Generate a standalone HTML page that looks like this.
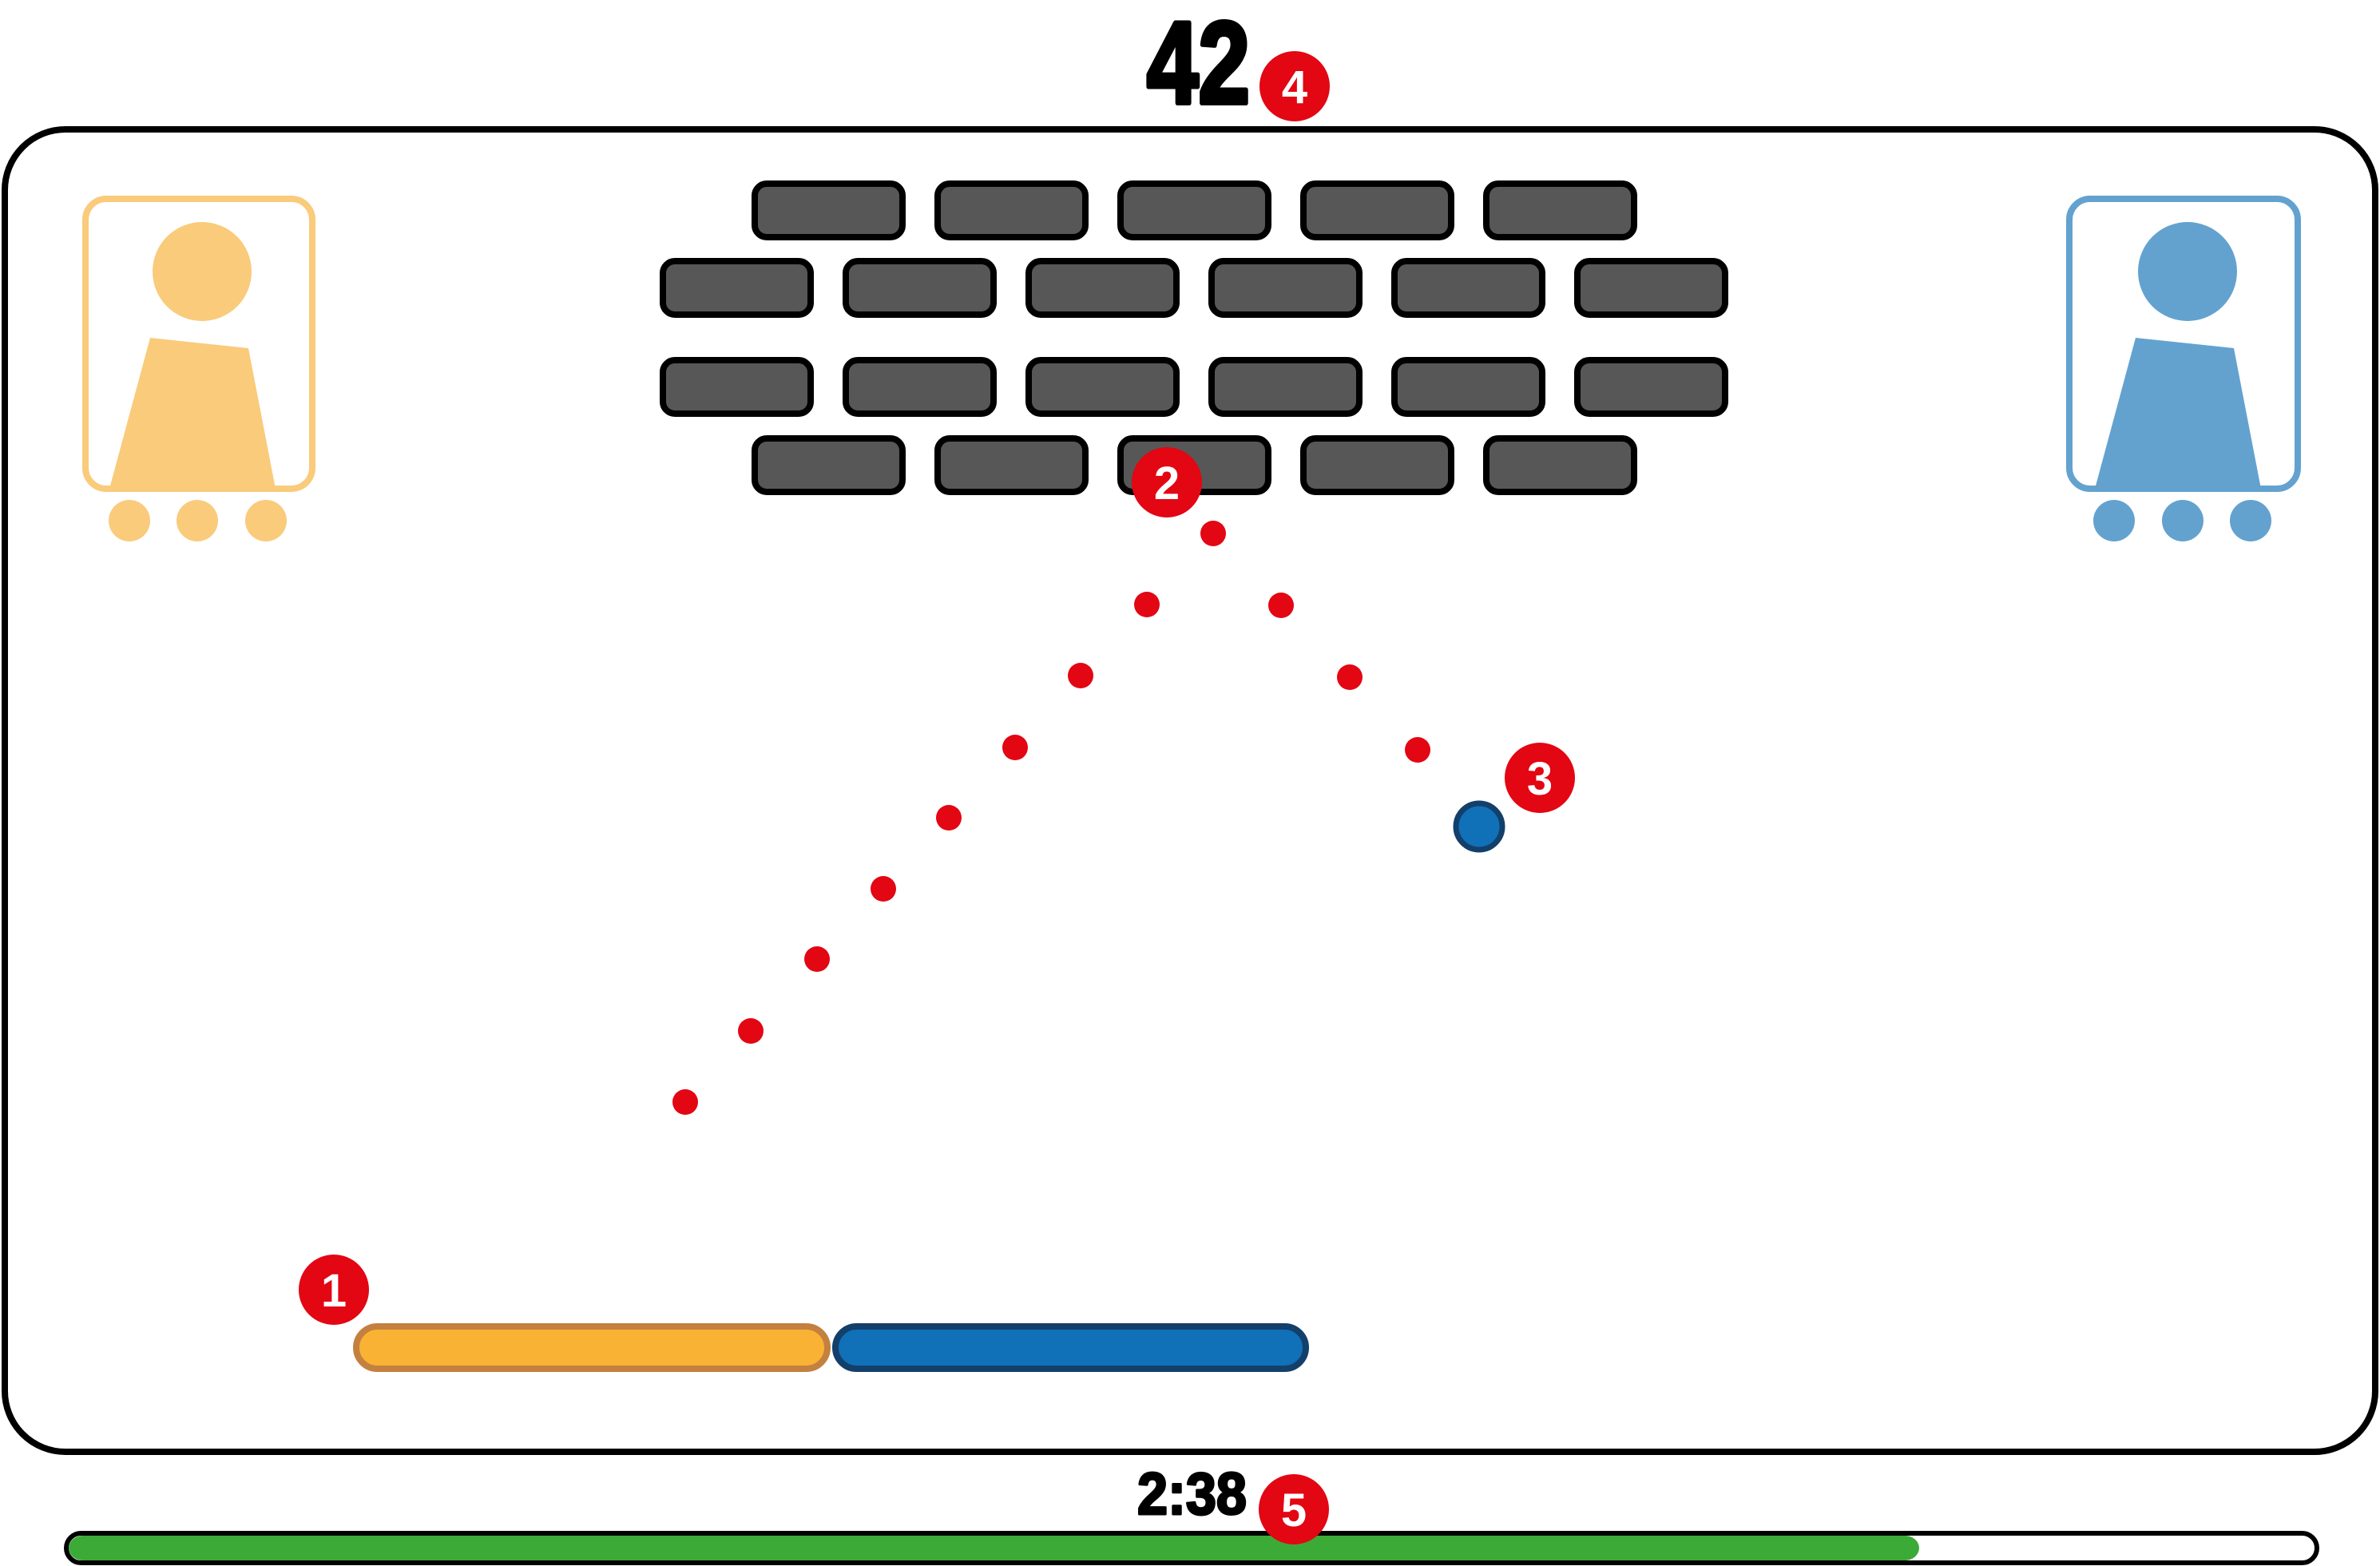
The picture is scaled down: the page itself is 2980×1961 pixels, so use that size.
<!DOCTYPE html>
<html><head><meta charset="utf-8"><style>
html,body{margin:0;padding:0;background:#fff;}
svg{display:block;}
</style></head><body>
<svg width="2980" height="1961" viewBox="0 0 2980 1961" xmlns="http://www.w3.org/2000/svg">
<rect x="0" y="0" width="2980" height="1961" fill="#fff"/>
<rect x="6" y="162" width="2968" height="1656" rx="76" ry="76" fill="#fff" stroke="#000" stroke-width="8"/>
<text x="1436" y="129" font-family="Liberation Sans Narrow, Liberation Sans, sans-serif" font-weight="bold" font-size="146" textLength="129" lengthAdjust="spacingAndGlyphs" fill="#000" stroke="#000" stroke-width="6" stroke-linejoin="round">42</text>
<g fill="#575757" stroke="#000" stroke-width="8">
<rect x="945" y="230" width="185" height="67" rx="15"/>
<rect x="1174" y="230" width="185" height="67" rx="15"/>
<rect x="1403" y="230" width="185" height="67" rx="15"/>
<rect x="1632" y="230" width="185" height="67" rx="15"/>
<rect x="1861" y="230" width="185" height="67" rx="15"/>
<rect x="830" y="327" width="185" height="67" rx="15"/>
<rect x="1059" y="327" width="185" height="67" rx="15"/>
<rect x="1288" y="327" width="185" height="67" rx="15"/>
<rect x="1517" y="327" width="185" height="67" rx="15"/>
<rect x="1746" y="327" width="185" height="67" rx="15"/>
<rect x="1975" y="327" width="185" height="67" rx="15"/>
<rect x="830" y="451" width="185" height="67" rx="15"/>
<rect x="1059" y="451" width="185" height="67" rx="15"/>
<rect x="1288" y="451" width="185" height="67" rx="15"/>
<rect x="1517" y="451" width="185" height="67" rx="15"/>
<rect x="1746" y="451" width="185" height="67" rx="15"/>
<rect x="1975" y="451" width="185" height="67" rx="15"/>
<rect x="945" y="549" width="185" height="67" rx="15"/>
<rect x="1174" y="549" width="185" height="67" rx="15"/>
<rect x="1403" y="549" width="185" height="67" rx="15"/>
<rect x="1632" y="549" width="185" height="67" rx="15"/>
<rect x="1861" y="549" width="185" height="67" rx="15"/>
</g>
<g fill="#f9cb7b">
<rect x="107" y="249" width="284" height="363" rx="26" fill="none" stroke="#f9cb7b" stroke-width="8"/>
<circle cx="253" cy="340" r="62"/>
<polygon points="188,423 311,436 345,612 137,612"/>
<circle cx="162" cy="652" r="26"/><circle cx="247" cy="652" r="26"/><circle cx="333" cy="652" r="26"/>
</g>
<g fill="#63a2cf">
<rect x="2591" y="249" width="286" height="363" rx="26" fill="none" stroke="#63a2cf" stroke-width="8"/>
<circle cx="2739" cy="340" r="62"/>
<polygon points="2674,423 2797,436 2831,612 2623,612"/>
<circle cx="2647" cy="652" r="26"/><circle cx="2733" cy="652" r="26"/><circle cx="2818" cy="652" r="26"/>
</g>
<g fill="#e30613">
<circle cx="858" cy="1380" r="16"/><circle cx="940" cy="1291" r="16"/><circle cx="1023" cy="1201" r="16"/>
<circle cx="1106" cy="1113" r="16"/><circle cx="1188" cy="1024" r="16"/><circle cx="1271" cy="936" r="16"/>
<circle cx="1353" cy="846" r="16"/><circle cx="1436" cy="757" r="16"/><circle cx="1519" cy="668" r="16"/>
<circle cx="1604" cy="758" r="16"/><circle cx="1690" cy="848" r="16"/><circle cx="1775" cy="939" r="16"/>
</g>
<circle cx="1852" cy="1035" r="29" fill="#1070b8" stroke="#133f6b" stroke-width="7"/>
<rect x="446" y="1661" width="590" height="53" rx="26.5" fill="#f9b233" stroke="#c4803f" stroke-width="8"/>
<rect x="1046" y="1661" width="589" height="53" rx="26.5" fill="#1070b8" stroke="#133f6b" stroke-width="8"/>
<text x="1424" y="1896" font-family="Liberation Sans Narrow, Liberation Sans, sans-serif" font-weight="bold" font-size="74" textLength="137" lengthAdjust="spacingAndGlyphs" fill="#000" stroke="#000" stroke-width="3" stroke-linejoin="round">2:38</text>
<rect x="83" y="1920" width="2818" height="37" rx="18.5" fill="#fff" stroke="#000" stroke-width="6"/>
<path d="M104,1923 H2385 A18,15.5 0 0 1 2385,1954 H104 A18,15.5 0 0 1 104,1923 Z" fill="#3caa36"/>
<g font-family="Liberation Sans, sans-serif" font-weight="bold" font-size="58" fill="#fff" text-anchor="middle">
<circle cx="418" cy="1615" r="44" fill="#e30613"/><text x="418" y="1636">1</text>
<circle cx="1461" cy="604" r="44" fill="#e30613"/><text x="1461" y="625">2</text>
<circle cx="1928" cy="974" r="44" fill="#e30613"/><text x="1928" y="995">3</text>
<circle cx="1621" cy="108" r="44" fill="#e30613"/><text x="1621" y="129">4</text>
<circle cx="1620" cy="1890" r="44" fill="#e30613"/><text x="1620" y="1911">5</text>
</g>
</svg>
</body></html>
